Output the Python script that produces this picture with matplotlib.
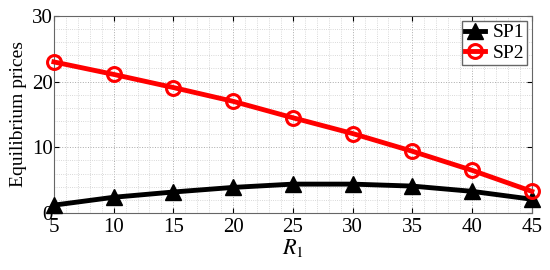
import numpy as np
import matplotlib.pyplot as plt
from matplotlib.ticker import MultipleLocator

plt.rcParams['font.family'] = ['Liberation Serif', 'DejaVu Serif']
plt.rcParams['mathtext.fontset'] = 'stix'

# data
r1 = [5, 10, 15, 20, 25, 30, 35, 40, 45]
sp1 = [1.2, 2.4, 3.2, 3.9, 4.4, 4.4, 4.1, 3.3, 2.1]
sp2 = [23.0, 21.1, 19.1, 17.0, 14.5, 12.1, 9.4, 6.5, 3.3]

fig = plt.figure(figsize=(5.5, 2.7), dpi=100)
ax = fig.add_axes([0.098, 0.211, 0.869, 0.73])

ax.plot(r1, sp1, 'k^-', lw=3.5, ms=11, label='SP1', clip_on=False, zorder=3)
ax.plot(r1, sp2, 'ro-', lw=3.5, ms=10, mfc='none', mew=2.2, label='SP2', clip_on=False, zorder=3)

ax.set_xlim(5, 45)
ax.set_ylim(0, 30)
ax.xaxis.set_major_locator(MultipleLocator(5))
ax.yaxis.set_major_locator(MultipleLocator(10))
ax.xaxis.set_minor_locator(MultipleLocator(1))
ax.yaxis.set_minor_locator(MultipleLocator(2))
ax.grid(which='major', ls=':', color='#aaaaaa', lw=0.7)
ax.grid(which='minor', ls=':', color='#cccccc', lw=0.6)
ax.tick_params(which='both', direction='in', top=True, right=True, labelsize=15)
ax.tick_params(axis='y', pad=1)
ax.tick_params(which='minor', length=0)
for s in ax.spines.values():
    s.set_color('#666666')

ax.set_xlabel('$R_1$', fontsize=16, labelpad=0)
ax.set_ylabel('Equilibrium prices', fontsize=14, labelpad=3)
ax.legend(loc='upper right', fontsize=14, fancybox=False, edgecolor='#666666',
          borderpad=0.15, handlelength=1.0, handletextpad=0.4, labelspacing=0.15,
          borderaxespad=0.25, framealpha=1)

fig.savefig('out.png')
